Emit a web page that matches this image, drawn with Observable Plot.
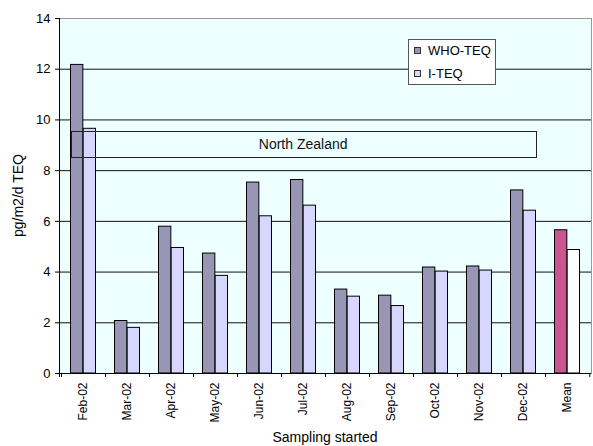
<!DOCTYPE html>
<html>
<head>
<meta charset="utf-8">
<script src="https://cdn.jsdelivr.net/npm/d3@7"></script>
<script src="https://cdn.jsdelivr.net/npm/@observablehq/plot@0.6"></script>
<style>
  body { margin: 0; background: #fff; }
  #chart { position: relative; width: 593px; height: 446px; font-family: Arial, "Liberation Sans", sans-serif; }
  #chart svg { display: block; }
  .legend {
    position: absolute; left: 408px; top: 39px; width: 86px; height: 44px;
    background: #fff; border: 1px solid #555; font-size: 13px; color: #000;
  }
  .legend .row { position: absolute; left: 5px; display: flex; align-items: center; white-space: nowrap; }
  .legend .sw { width: 5px; height: 5px; border: 1px solid #333; margin-right: 7px; }
</style>
</head>
<body>
<div id="chart"></div>
<script>
// Deposition per sampling period (pg/m2/d TEQ), North Zealand, 2002
const months = ["Feb-02", "Mar-02", "Apr-02", "May-02", "Jun-02", "Jul-02",
                "Aug-02", "Sep-02", "Oct-02", "Nov-02", "Dec-02", "Mean"];
const whoTeq = [12.17, 2.07, 5.79, 4.73, 7.53, 7.63, 3.31, 3.07, 4.18, 4.22, 7.22, 5.65];
const iTeq   = [9.65, 1.80, 4.95, 3.85, 6.20, 6.62, 3.03, 2.66, 4.02, 4.06, 6.42, 4.87];
const seriesNames = ["WHO-TEQ", "I-TEQ"];
const yTicks = [0, 2, 4, 6, 8, 10, 12, 14];

const colors = {
  "WHO-TEQ": "#9797b5",
  "I-TEQ": "#d6d6ff",
  "WHO-TEQ mean": "#cc5490",
  "I-TEQ mean": "#ffffff"
};

const rows = months.flatMap((m, i) => [
  {month: m, series: seriesNames[0], value: whoTeq[i]},
  {month: m, series: seriesNames[1], value: iTeq[i]}
]);
const fillKey = d => d.month === "Mean" ? d.series + " mean" : d.series;

const W = 593, H = 446;
const margin = {top: 18, right: 2, bottom: 73, left: 59};
const step = (W - margin.left - margin.right) / months.length;
const gapWidth = 1.5;                       // gap between groups, in bar widths
const barW = step / (2 + gapWidth);
const pad = (step - 2 * barW) / 2;

// Axis lines, category separator ticks and the "North Zealand" label box
function chartFurniture(index, scales, values, dims) {
  const x = scales.x, y = scales.y;
  const g = d3.create("svg:g");
  const left = dims.marginLeft, right = dims.width - dims.marginRight;
  const bottom = dims.height - dims.marginBottom, top = dims.marginTop;
  const bounds = months.map(m => x(m)).concat([x(months[months.length - 1]) + step]);
  g.selectAll("line.sep").data(bounds).join("line")
    .attr("x1", d => d + 0.5).attr("x2", d => d + 0.5)
    .attr("y1", bottom).attr("y2", bottom + 4)
    .attr("stroke", "#000");
  g.append("line").attr("x1", left + 0.5).attr("x2", left + 0.5)
    .attr("y1", top).attr("y2", bottom + 4).attr("stroke", "#000");
  g.append("line").attr("x1", left).attr("x2", right)
    .attr("y1", y(0) + 0.5).attr("y2", y(0) + 0.5).attr("stroke", "#000");

  const bx1 = x("Feb-02") + pad, bx2 = x("Dec-02") + step - pad;
  const by1 = y(9.54), by2 = y(8.53);
  g.append("rect")
    .attr("x", Math.round(bx1) + 0.5).attr("y", Math.round(by1) + 0.5)
    .attr("width", Math.round(bx2 - bx1)).attr("height", Math.round(by2 - by1))
    .attr("fill", "none").attr("stroke", "#222");
  g.append("text")
    .attr("x", (bx1 + bx2) / 2).attr("y", (by1 + by2) / 2)
    .attr("dy", "0.35em").attr("text-anchor", "middle")
    .attr("font-size", 14).attr("fill", "#111")
    .text("North Zealand");
  return g.node();
}

const plot = Plot.plot({
  width: W,
  height: H,
  marginTop: margin.top,
  marginRight: margin.right,
  marginBottom: margin.bottom,
  marginLeft: margin.left,
  style: {fontFamily: "Arial, 'Liberation Sans', sans-serif", fontSize: "12px", color: "#000", background: "#fff"},
  x: {type: "band", domain: months, padding: 0, tickSize: 0, tickRotate: -90, tickPadding: 9, label: null},
  y: {domain: [0, 14], ticks: yTicks, tickSize: 4, tickPadding: 5, label: null},
  color: {domain: Object.keys(colors), range: Object.values(colors)},
  marks: [
    Plot.frame({fill: "#eeffff", stroke: "#999"}),
    Plot.ruleY(yTicks.filter(t => t > 0 && t < 14), {stroke: "#111"}),
    Plot.barY(rows.filter(d => d.series === seriesNames[0]), {
      x: "month", y: "value", fill: fillKey, stroke: "#000", strokeWidth: 1,
      insetLeft: pad, insetRight: step - pad - barW
    }),
    Plot.barY(rows.filter(d => d.series === seriesNames[1]), {
      x: "month", y: "value", fill: fillKey, stroke: "#000", strokeWidth: 1,
      insetLeft: pad + barW, insetRight: pad
    }),
    chartFurniture
  ]
});

const svg = d3.select(plot);
svg.selectAll('[aria-label="y-axis tick label"] text, [aria-label="y-axis"] text').attr("font-size", 13);

svg.append("text")
  .attr("transform", `translate(18,${(margin.top + H - margin.bottom) / 2}) rotate(-90)`)
  .attr("text-anchor", "middle").attr("dy", "0.35em")
  .attr("font-size", 14).attr("fill", "#000")
  .text("pg/m2/d TEQ");
svg.append("text")
  .attr("x", (margin.left + W - margin.right) / 2).attr("y", 442)
  .attr("text-anchor", "middle")
  .attr("font-size", 14).attr("fill", "#000")
  .text("Sampling started");

const chart = document.getElementById("chart");
chart.appendChild(plot);

// Series key, placed inside the plotting area
const legend = d3.select(chart).append("div").attr("class", "legend");
seriesNames.forEach((name, i) => {
  const row = legend.append("div").attr("class", "row").style("top", (i === 0 ? 3 : 26) + "px");
  row.append("div").attr("class", "sw").style("background", colors[name]);
  row.append("span").text(name);
});
</script>
</body>
</html>
